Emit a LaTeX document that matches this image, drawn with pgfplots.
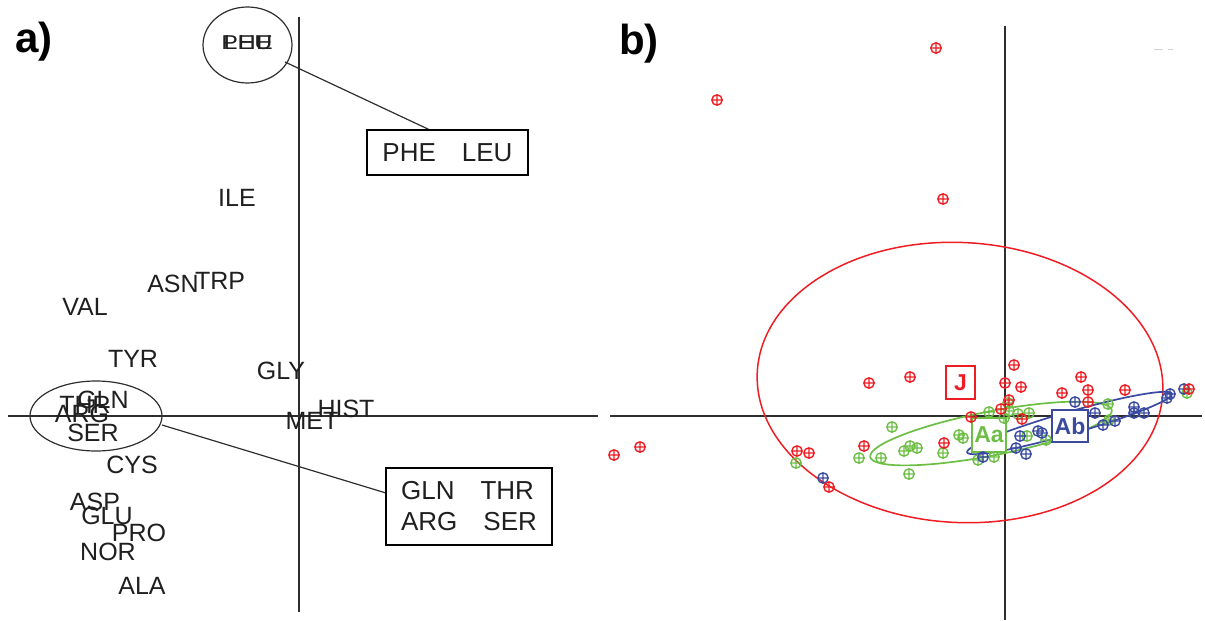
\documentclass[border=0pt]{standalone}
\usepackage{pgfplots}
\pgfplotsset{compat=1.18}
\usepackage{fontspec}
\setmainfont{Liberation Sans}
\definecolor{cRed}{HTML}{EE1D24}
\definecolor{cGreen}{HTML}{6DBE45}
\definecolor{cBlue}{HTML}{3A4AA0}
\definecolor{cAxis}{HTML}{2E2E2E}
\begin{document}
\begin{tikzpicture}
\begin{axis}[hide axis, scale only axis, width=602.5pt, height=310.5pt,
  xmin=0, xmax=1205, ymin=0, ymax=621, y dir=reverse, clip=false]
\coordinate (BL) at (rel axis cs:0,0);
\coordinate (TR) at (rel axis cs:1,1);
% ---------- panel a: cross ----------
\addplot[cAxis, line width=0.7pt] coordinates {(299,17) (299,612)};
\addplot[cAxis, line width=0.7pt] coordinates {(8,416) (598,416)};
% ---------- panel b: cross ----------
\addplot[cAxis, line width=0.7pt] coordinates {(1005,26) (1005,620)};
\addplot[cAxis, line width=0.7pt] coordinates {(610,416) (1202,416)};
% ---------- panel a labels ----------
\addplot[only marks, mark=none, nodes near coords, point meta=explicit symbolic,
  nodes near coords style={anchor=center, inner sep=0pt, text=black!88,
    font=\fontsize{12.5}{14}\selectfont}]
  table[meta=label, header=true] {
x y label
237 198 ILE
173 284 ASN
220 281 TRP
85 307 VAL
133 359 TYR
281 371 GLY
103 400 GLN
85 405 THR
82 414 ARG
93 433 SER
346 409 HIST
312 421 MET
132 465 CYS
95 502 ASP
107 516 GLU
139 533 PRO
108 552 NOR
142 586 ALA
};
\node[inner sep=0pt, text=black!88, font=\fontsize{12.5}{14}\selectfont] at (axis cs:247,43) {\scalebox{1}[0.8]{PHE}};
\node[inner sep=0pt, text=black!88, font=\fontsize{12.5}{14}\selectfont] at (axis cs:248,43) {\scalebox{1}[0.8]{LEU}};
\draw[cAxis, line width=0.6pt] (axis cs:247.5,45) ellipse [x radius=22.25pt, y radius=19pt];
\draw[cAxis, line width=0.6pt] (axis cs:96,416) ellipse [x radius=33pt, y radius=17.5pt];
\draw[cAxis, line width=0.6pt] (axis cs:285,62) -- (axis cs:430,130);
\draw[cAxis, line width=0.6pt] (axis cs:162,425) -- (axis cs:386,493);
\node[draw=black, line width=0.8pt, fill=white, minimum width=80.5pt, minimum height=22.5pt, inner sep=0pt,
  font=\fontsize{13}{15.5}\selectfont, text=black!88] at (axis cs:447.5,152.5) {PHE\hspace{1em}LEU};
\node[draw=black, line width=0.8pt, fill=white, minimum width=83pt, minimum height=38.5pt, inner sep=0pt,
  align=left, font=\fontsize{13}{15.5}\selectfont, text=black!88] at (axis cs:469,506.5) {GLN\hspace{1em}THR\\ARG\hspace{1em}SER};
\node[inner sep=0pt, font=\bfseries\fontsize{21}{24}\selectfont] at (axis cs:34,42) {a)};
\node[inner sep=0pt, font=\bfseries\fontsize{21}{24}\selectfont] at (axis cs:639,44) {b)};
% ---------- panel b ellipses ----------
\draw[cRed, line width=0.75pt, rotate around={-3:(axis cs:960,382.5)}] (axis cs:960,382.5) ellipse [x radius=101.5pt, y radius=70pt];
\draw[cGreen, line width=0.85pt, rotate around={11:(axis cs:991,433.5)}] (axis cs:991,433.5) ellipse [x radius=61.5pt, y radius=11pt];
\draw[cBlue, line width=0.85pt, rotate around={16:(axis cs:1069.5,423)}] (axis cs:1069.5,423) ellipse [x radius=53.25pt, y radius=5.5pt];
% ---------- panel b points ----------
\addplot[only marks, mark=oplus, mark size=2.6pt, cGreen, mark options={fill=cGreen!40, line width=0.7pt}] table {
1008 403
989 412
1009 411
1018 414
1029 413
1004 418
959 435
963 438
943 453
1027 436
1046 440
978 460
994 457
1108 404
1109 420
1187 393
892 427
904 451
910 446
917 448
881 458
859 458
909 474
796 463
};
\addplot[only marks, mark=oplus, mark size=2.6pt, cBlue, mark options={fill=cBlue!35, line width=0.7pt}] table {
823 478
983 457
1016 448
1026 454
1020 436
1038 431
1042 433
1075 402
1095 413
1103 425
1115 421
1134 407
1134 413
1144 413
1167 398
1170 394
1184 389
};
\addplot[only marks, mark=oplus, mark size=2.6pt, cRed, mark options={fill=cRed!30, line width=0.7pt}] table {
936 48
717 100
943 199
614 455
640 447
869 383
910 377
1014 365
1005 383
1021 387
1062 393
1081 377
1088 390
1125 390
1088 402
1009 400
1001 409
971 417
1022 419
944 443
864 446
797 451
809 453
829 487
1189 389
};
% ---------- group boxes ----------
\node[draw=cRed, line width=0.6pt, fill=white, text=cRed, inner sep=0pt, minimum width=14.5pt, minimum height=16.5pt,
  font=\bfseries\fontsize{11.5}{13}\selectfont] at (axis cs:960.5,382.5) {J};
\node[draw=cGreen, line width=0.6pt, fill=white, text=cGreen, inner sep=0pt, minimum width=17pt, minimum height=17pt,
  font=\bfseries\fontsize{11.5}{13}\selectfont] at (axis cs:989,435) {Aa};
\node[draw=cBlue, line width=0.6pt, fill=white, text=cBlue, inner sep=0pt, minimum width=18pt, minimum height=16pt,
  font=\bfseries\fontsize{11.5}{13}\selectfont] at (axis cs:1070,426) {Ab};
\draw[gray!35, line width=0.5pt] (axis cs:1154,49) -- (axis cs:1163,49);
\draw[gray!35, line width=0.5pt] (axis cs:1168,49) -- (axis cs:1173,49);
\end{axis}
\pgfresetboundingbox
\path (BL) rectangle (TR);
\end{tikzpicture}
\end{document}
